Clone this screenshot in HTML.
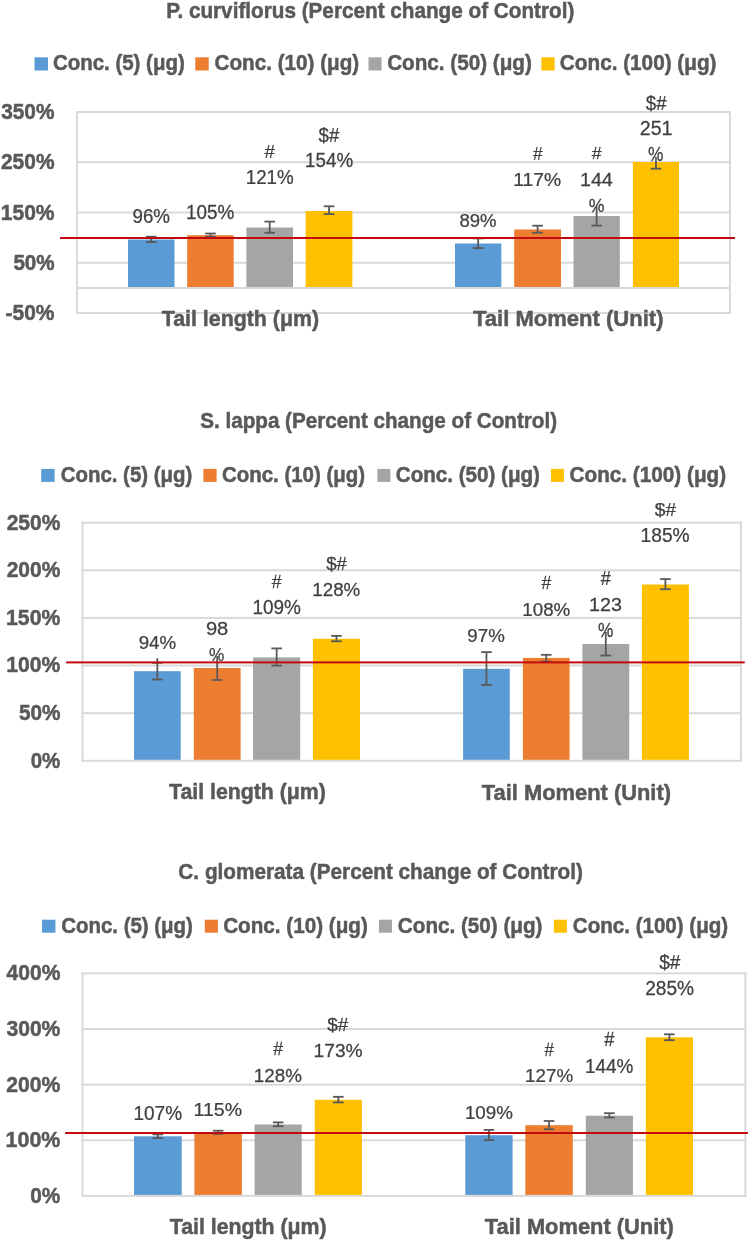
<!DOCTYPE html>
<html><head><meta charset="utf-8"><style>
html,body{margin:0;padding:0;background:#fff;width:749px;height:1240px;overflow:hidden}
svg{display:block;will-change:transform}
text{font-family:"Liberation Sans",sans-serif}
text[font-weight="bold"]{stroke:#595959;stroke-width:0.5;stroke-linejoin:round}
text[font-weight="normal"]{stroke:#404040;stroke-width:0.25;stroke-linejoin:round}
</style></head><body>
<svg width="749" height="1240" viewBox="0 0 749 1240">
<rect width="749" height="1240" fill="#fff"/>
<rect x="76.00" y="111.00" width="655.00" height="2" fill="#D9D9D9"/>
<rect x="76.00" y="161.25" width="655.00" height="2" fill="#D9D9D9"/>
<rect x="76.00" y="211.50" width="655.00" height="2" fill="#D9D9D9"/>
<rect x="76.00" y="261.75" width="655.00" height="2" fill="#D9D9D9"/>
<rect x="76.00" y="312.00" width="655.00" height="2" fill="#D9D9D9"/>
<rect x="76.00" y="287.00" width="655.00" height="2" fill="#D9D9D9"/>
<rect x="76.00" y="111.00" width="2" height="203.00" fill="#D9D9D9"/>
<rect x="729.00" y="111.00" width="2" height="203.00" fill="#D9D9D9"/>
<rect x="128.00" y="239.50" width="46.50" height="47.50" fill="#5B9BD5"/>
<rect x="187.20" y="235.20" width="46.50" height="51.80" fill="#ED7D31"/>
<rect x="246.40" y="227.50" width="46.60" height="59.50" fill="#A5A5A5"/>
<rect x="305.70" y="211.00" width="46.70" height="76.00" fill="#FFC000"/>
<rect x="455.00" y="243.50" width="46.30" height="43.50" fill="#5B9BD5"/>
<rect x="514.20" y="229.50" width="46.80" height="57.50" fill="#ED7D31"/>
<rect x="573.50" y="216.00" width="46.30" height="71.00" fill="#A5A5A5"/>
<rect x="632.90" y="162.00" width="46.10" height="125.00" fill="#FFC000"/>
<rect x="150.35" y="236.70" width="1.8" height="5.30" fill="#595959"/>
<rect x="145.95" y="235.80" width="10.6" height="1.8" fill="#595959"/>
<rect x="145.95" y="241.10" width="10.6" height="1.8" fill="#595959"/>
<rect x="209.55" y="233.50" width="1.8" height="3.20" fill="#595959"/>
<rect x="205.15" y="232.60" width="10.6" height="1.8" fill="#595959"/>
<rect x="205.15" y="235.80" width="10.6" height="1.8" fill="#595959"/>
<rect x="268.80" y="221.60" width="1.8" height="11.20" fill="#595959"/>
<rect x="264.40" y="220.70" width="10.6" height="1.8" fill="#595959"/>
<rect x="264.40" y="231.90" width="10.6" height="1.8" fill="#595959"/>
<rect x="328.15" y="206.30" width="1.8" height="7.80" fill="#595959"/>
<rect x="323.75" y="205.40" width="10.6" height="1.8" fill="#595959"/>
<rect x="323.75" y="213.20" width="10.6" height="1.8" fill="#595959"/>
<rect x="477.25" y="238.40" width="1.8" height="9.70" fill="#595959"/>
<rect x="472.85" y="237.50" width="10.6" height="1.8" fill="#595959"/>
<rect x="472.85" y="247.20" width="10.6" height="1.8" fill="#595959"/>
<rect x="536.70" y="225.70" width="1.8" height="7.10" fill="#595959"/>
<rect x="532.30" y="224.80" width="10.6" height="1.8" fill="#595959"/>
<rect x="532.30" y="231.90" width="10.6" height="1.8" fill="#595959"/>
<rect x="595.75" y="206.40" width="1.8" height="19.20" fill="#595959"/>
<rect x="591.35" y="224.70" width="10.6" height="1.8" fill="#595959"/>
<rect x="655.05" y="157.00" width="1.8" height="11.70" fill="#595959"/>
<rect x="650.65" y="167.80" width="10.6" height="1.8" fill="#595959"/>
<rect x="60.00" y="237.00" width="675.00" height="2" fill="#C00A10"/>
<text transform="translate(132.46,223.40) scale(0.9509,1)" font-size="19.72" font-weight="normal" fill="#404040">96%</text>
<text transform="translate(186.09,218.81) scale(0.9791,1)" font-size="19.30" font-weight="normal" fill="#404040">105%</text>
<text transform="translate(264.60,157.70) scale(0.9721,1)" font-size="19.26" font-weight="normal" fill="#404040">#</text>
<text transform="translate(245.70,184.21) scale(0.9728,1)" font-size="19.30" font-weight="normal" fill="#404040">121%</text>
<text transform="translate(318.61,142.23) scale(0.9554,1)" font-size="19.51" font-weight="normal" fill="#404040">$#</text>
<text transform="translate(305.10,167.41) scale(0.9661,1)" font-size="19.43" font-weight="normal" fill="#404040">154%</text>
<text transform="translate(459.46,226.61) scale(0.9977,1)" font-size="18.59" font-weight="normal" fill="#404040">89%</text>
<text transform="translate(532.90,160.30) scale(0.9396,1)" font-size="18.38" font-weight="normal" fill="#404040">#</text>
<text transform="translate(513.25,186.41) scale(1.0248,1)" font-size="18.86" font-weight="normal" fill="#404040">117%</text>
<text transform="translate(591.80,159.40) scale(1.0163,1)" font-size="17.35" font-weight="normal" fill="#404040">#</text>
<text transform="translate(579.92,186.00) scale(1.0399,1)" font-size="18.99" font-weight="normal" fill="#404040">144</text>
<text transform="translate(588.79,211.91) scale(0.9500,1)" font-size="18.71" font-weight="normal" fill="#404040">%</text>
<text transform="translate(645.81,109.83) scale(0.9494,1)" font-size="19.63" font-weight="normal" fill="#404040">$#</text>
<text transform="translate(639.72,135.30) scale(0.9911,1)" font-size="19.86" font-weight="normal" fill="#404040">251</text>
<text transform="translate(648.11,161.40) scale(0.8642,1)" font-size="20.00" font-weight="normal" fill="#404040">%</text>
<text transform="translate(166.25,18.00) scale(0.9468,1)" font-size="21.88" font-weight="bold" fill="#595959">P. curviflorus (Percent change of Control)</text>
<rect x="34.50" y="57.30" width="13.50" height="13.20" fill="#5B9BD5"/>
<text transform="translate(52.88,70.40) scale(0.9497,1)" font-size="21.57" font-weight="bold" fill="#595959">Conc. (5) (μg)</text>
<rect x="195.30" y="57.30" width="13.40" height="13.20" fill="#ED7D31"/>
<text transform="translate(214.57,70.40) scale(0.9580,1)" font-size="21.57" font-weight="bold" fill="#595959">Conc. (10) (μg)</text>
<rect x="368.50" y="57.30" width="13.10" height="13.20" fill="#A5A5A5"/>
<text transform="translate(387.17,70.40) scale(0.9587,1)" font-size="21.57" font-weight="bold" fill="#595959">Conc. (50) (μg)</text>
<rect x="541.40" y="57.30" width="13.20" height="13.20" fill="#FFC000"/>
<text transform="translate(559.87,70.40) scale(0.9613,1)" font-size="21.57" font-weight="bold" fill="#595959">Conc. (100) (μg)</text>
<text transform="translate(1.18,119.08) scale(0.9501,1)" font-size="21.97" font-weight="bold" fill="#595959">350%</text>
<text transform="translate(0.97,168.78) scale(0.9727,1)" font-size="21.55" font-weight="bold" fill="#595959">250%</text>
<text transform="translate(0.74,219.78) scale(0.9770,1)" font-size="21.55" font-weight="bold" fill="#595959">150%</text>
<text transform="translate(13.38,269.78) scale(0.9568,1)" font-size="21.55" font-weight="bold" fill="#595959">50%</text>
<text transform="translate(5.56,319.79) scale(0.9795,1)" font-size="21.41" font-weight="bold" fill="#595959">-50%</text>
<text transform="translate(161.69,326.00) scale(0.9518,1)" font-size="22.46" font-weight="bold" fill="#595959">Tail length (μm)</text>
<text transform="translate(472.98,326.00) scale(0.9690,1)" font-size="22.75" font-weight="bold" fill="#595959">Tail Moment (Unit)</text>
<rect x="81.50" y="521.70" width="660.50" height="2" fill="#D9D9D9"/>
<rect x="81.50" y="569.30" width="660.50" height="2" fill="#D9D9D9"/>
<rect x="81.50" y="616.90" width="660.50" height="2" fill="#D9D9D9"/>
<rect x="81.50" y="664.50" width="660.50" height="2" fill="#D9D9D9"/>
<rect x="81.50" y="712.20" width="660.50" height="2" fill="#D9D9D9"/>
<rect x="81.50" y="759.80" width="660.50" height="2" fill="#D9D9D9"/>
<rect x="81.50" y="521.70" width="2" height="240.10" fill="#D9D9D9"/>
<rect x="740.00" y="521.70" width="2" height="240.10" fill="#D9D9D9"/>
<rect x="134.00" y="671.20" width="46.70" height="88.60" fill="#5B9BD5"/>
<rect x="193.80" y="668.00" width="46.80" height="91.80" fill="#ED7D31"/>
<rect x="253.10" y="657.40" width="47.10" height="102.40" fill="#A5A5A5"/>
<rect x="312.90" y="638.80" width="47.10" height="121.00" fill="#FFC000"/>
<rect x="463.10" y="668.80" width="46.70" height="91.00" fill="#5B9BD5"/>
<rect x="522.90" y="657.90" width="46.70" height="101.90" fill="#ED7D31"/>
<rect x="582.40" y="644.00" width="46.80" height="115.80" fill="#A5A5A5"/>
<rect x="641.90" y="584.50" width="47.00" height="175.30" fill="#FFC000"/>
<rect x="156.45" y="658.20" width="1.8" height="21.30" fill="#595959"/>
<rect x="152.05" y="661.90" width="10.6" height="1.8" fill="#595959"/>
<rect x="152.05" y="678.60" width="10.6" height="1.8" fill="#595959"/>
<rect x="216.30" y="656.00" width="1.8" height="24.00" fill="#595959"/>
<rect x="211.90" y="679.10" width="10.6" height="1.8" fill="#595959"/>
<rect x="275.75" y="648.40" width="1.8" height="17.20" fill="#595959"/>
<rect x="271.35" y="647.50" width="10.6" height="1.8" fill="#595959"/>
<rect x="271.35" y="664.70" width="10.6" height="1.8" fill="#595959"/>
<rect x="335.55" y="635.90" width="1.8" height="5.40" fill="#595959"/>
<rect x="331.15" y="635.00" width="10.6" height="1.8" fill="#595959"/>
<rect x="331.15" y="640.40" width="10.6" height="1.8" fill="#595959"/>
<rect x="485.55" y="652.10" width="1.8" height="32.80" fill="#595959"/>
<rect x="481.15" y="651.20" width="10.6" height="1.8" fill="#595959"/>
<rect x="481.15" y="684.00" width="10.6" height="1.8" fill="#595959"/>
<rect x="545.35" y="654.80" width="1.8" height="6.70" fill="#595959"/>
<rect x="540.95" y="653.90" width="10.6" height="1.8" fill="#595959"/>
<rect x="540.95" y="660.60" width="10.6" height="1.8" fill="#595959"/>
<rect x="604.90" y="632.00" width="1.8" height="23.50" fill="#595959"/>
<rect x="600.50" y="654.60" width="10.6" height="1.8" fill="#595959"/>
<rect x="664.50" y="579.10" width="1.8" height="10.10" fill="#595959"/>
<rect x="660.10" y="578.20" width="10.6" height="1.8" fill="#595959"/>
<rect x="660.10" y="588.30" width="10.6" height="1.8" fill="#595959"/>
<rect x="66.10" y="661.40" width="678.60" height="2" fill="#C00A10"/>
<text transform="translate(138.67,648.62) scale(1.0134,1)" font-size="18.45" font-weight="normal" fill="#404040">94%</text>
<text transform="translate(205.89,635.12) scale(1.0946,1)" font-size="18.45" font-weight="normal" fill="#404040">98</text>
<text transform="translate(209.01,661.31) scale(0.8962,1)" font-size="19.29" font-weight="normal" fill="#404040">%</text>
<text transform="translate(271.80,587.70) scale(0.9830,1)" font-size="17.94" font-weight="normal" fill="#404040">#</text>
<text transform="translate(252.49,614.21) scale(0.9813,1)" font-size="19.30" font-weight="normal" fill="#404040">109%</text>
<text transform="translate(326.21,570.10) scale(1.0064,1)" font-size="18.52" font-weight="normal" fill="#404040">$#</text>
<text transform="translate(312.30,595.91) scale(0.9872,1)" font-size="19.01" font-weight="normal" fill="#404040">128%</text>
<text transform="translate(467.37,642.02) scale(1.0212,1)" font-size="18.31" font-weight="normal" fill="#404040">97%</text>
<text transform="translate(541.60,588.60) scale(0.9830,1)" font-size="17.94" font-weight="normal" fill="#404040">#</text>
<text transform="translate(522.30,615.52) scale(1.0173,1)" font-size="18.45" font-weight="normal" fill="#404040">108%</text>
<text transform="translate(600.70,584.70) scale(0.9227,1)" font-size="19.71" font-weight="normal" fill="#404040">#</text>
<text transform="translate(589.12,610.92) scale(1.0699,1)" font-size="18.45" font-weight="normal" fill="#404040">123</text>
<text transform="translate(598.01,637.21) scale(0.8896,1)" font-size="19.43" font-weight="normal" fill="#404040">%</text>
<text transform="translate(654.81,515.76) scale(1.0814,1)" font-size="17.65" font-weight="normal" fill="#404040">$#</text>
<text transform="translate(640.57,542.00) scale(0.9727,1)" font-size="19.72" font-weight="normal" fill="#404040">185%</text>
<text transform="translate(200.18,428.00) scale(0.9516,1)" font-size="21.71" font-weight="bold" fill="#595959">S. lappa (Percent change of Control)</text>
<rect x="41.20" y="468.90" width="13.40" height="13.00" fill="#5B9BD5"/>
<text transform="translate(60.68,481.90) scale(0.9603,1)" font-size="21.29" font-weight="bold" fill="#595959">Conc. (5) (μg)</text>
<rect x="203.40" y="468.90" width="13.20" height="13.00" fill="#ED7D31"/>
<text transform="translate(221.88,481.90) scale(0.9620,1)" font-size="21.29" font-weight="bold" fill="#595959">Conc. (10) (μg)</text>
<rect x="377.40" y="468.90" width="13.00" height="13.00" fill="#A5A5A5"/>
<text transform="translate(395.78,481.90) scale(0.9675,1)" font-size="21.29" font-weight="bold" fill="#595959">Conc. (50) (μg)</text>
<rect x="551.00" y="468.90" width="12.90" height="13.00" fill="#FFC000"/>
<text transform="translate(569.57,481.90) scale(0.9736,1)" font-size="21.29" font-weight="bold" fill="#595959">Conc. (100) (μg)</text>
<text transform="translate(6.67,529.77) scale(0.9319,1)" font-size="22.54" font-weight="bold" fill="#595959">250%</text>
<text transform="translate(6.67,577.47) scale(0.9319,1)" font-size="22.54" font-weight="bold" fill="#595959">200%</text>
<text transform="translate(6.02,625.08) scale(0.9612,1)" font-size="22.11" font-weight="bold" fill="#595959">150%</text>
<text transform="translate(6.33,672.48) scale(0.9807,1)" font-size="21.55" font-weight="bold" fill="#595959">100%</text>
<text transform="translate(18.88,720.28) scale(0.9515,1)" font-size="21.83" font-weight="bold" fill="#595959">50%</text>
<text transform="translate(30.68,767.77) scale(0.9100,1)" font-size="22.54" font-weight="bold" fill="#595959">0%</text>
<text transform="translate(168.99,799.20) scale(0.9482,1)" font-size="22.46" font-weight="bold" fill="#595959">Tail length (μm)</text>
<text transform="translate(481.78,799.70) scale(0.9680,1)" font-size="22.61" font-weight="bold" fill="#595959">Tail Moment (Unit)</text>
<rect x="81.50" y="972.40" width="664.90" height="2" fill="#D9D9D9"/>
<rect x="81.50" y="1028.00" width="664.90" height="2" fill="#D9D9D9"/>
<rect x="81.50" y="1083.70" width="664.90" height="2" fill="#D9D9D9"/>
<rect x="81.50" y="1139.30" width="664.90" height="2" fill="#D9D9D9"/>
<rect x="81.50" y="1194.90" width="664.90" height="2" fill="#D9D9D9"/>
<rect x="81.50" y="972.40" width="2" height="224.50" fill="#D9D9D9"/>
<rect x="744.40" y="972.40" width="2" height="224.50" fill="#D9D9D9"/>
<rect x="134.00" y="1136.30" width="47.70" height="58.60" fill="#5B9BD5"/>
<rect x="194.40" y="1132.00" width="47.50" height="62.90" fill="#ED7D31"/>
<rect x="254.60" y="1124.50" width="47.10" height="70.40" fill="#A5A5A5"/>
<rect x="314.80" y="1099.80" width="47.10" height="95.10" fill="#FFC000"/>
<rect x="465.30" y="1135.20" width="47.30" height="59.70" fill="#5B9BD5"/>
<rect x="525.30" y="1125.20" width="47.50" height="69.70" fill="#ED7D31"/>
<rect x="585.80" y="1115.70" width="47.10" height="79.20" fill="#A5A5A5"/>
<rect x="645.80" y="1037.30" width="47.20" height="157.60" fill="#FFC000"/>
<rect x="156.95" y="1134.40" width="1.8" height="3.70" fill="#595959"/>
<rect x="152.55" y="1133.50" width="10.6" height="1.8" fill="#595959"/>
<rect x="152.55" y="1137.20" width="10.6" height="1.8" fill="#595959"/>
<rect x="217.25" y="1130.70" width="1.8" height="3.10" fill="#595959"/>
<rect x="212.85" y="1129.80" width="10.6" height="1.8" fill="#595959"/>
<rect x="212.85" y="1132.90" width="10.6" height="1.8" fill="#595959"/>
<rect x="277.25" y="1122.40" width="1.8" height="3.80" fill="#595959"/>
<rect x="272.85" y="1121.50" width="10.6" height="1.8" fill="#595959"/>
<rect x="272.85" y="1125.30" width="10.6" height="1.8" fill="#595959"/>
<rect x="337.45" y="1096.80" width="1.8" height="5.60" fill="#595959"/>
<rect x="333.05" y="1095.90" width="10.6" height="1.8" fill="#595959"/>
<rect x="333.05" y="1101.50" width="10.6" height="1.8" fill="#595959"/>
<rect x="488.05" y="1129.90" width="1.8" height="10.30" fill="#595959"/>
<rect x="483.65" y="1129.00" width="10.6" height="1.8" fill="#595959"/>
<rect x="483.65" y="1139.30" width="10.6" height="1.8" fill="#595959"/>
<rect x="548.15" y="1121.00" width="1.8" height="8.30" fill="#595959"/>
<rect x="543.75" y="1120.10" width="10.6" height="1.8" fill="#595959"/>
<rect x="543.75" y="1128.40" width="10.6" height="1.8" fill="#595959"/>
<rect x="608.45" y="1113.20" width="1.8" height="4.30" fill="#595959"/>
<rect x="604.05" y="1112.30" width="10.6" height="1.8" fill="#595959"/>
<rect x="604.05" y="1116.60" width="10.6" height="1.8" fill="#595959"/>
<rect x="668.50" y="1034.30" width="1.8" height="5.90" fill="#595959"/>
<rect x="664.10" y="1033.40" width="10.6" height="1.8" fill="#595959"/>
<rect x="664.10" y="1039.30" width="10.6" height="1.8" fill="#595959"/>
<rect x="65.20" y="1132.00" width="682.80" height="2" fill="#C00A10"/>
<text transform="translate(133.48,1120.01) scale(0.9763,1)" font-size="19.44" font-weight="normal" fill="#404040">107%</text>
<text transform="translate(193.53,1115.91) scale(1.0152,1)" font-size="19.29" font-weight="normal" fill="#404040">115%</text>
<text transform="translate(273.30,1055.10) scale(0.9594,1)" font-size="18.38" font-weight="normal" fill="#404040">#</text>
<text transform="translate(253.79,1082.01) scale(0.9989,1)" font-size="18.87" font-weight="normal" fill="#404040">128%</text>
<text transform="translate(327.31,1030.86) scale(1.0762,1)" font-size="17.65" font-weight="normal" fill="#404040">$#</text>
<text transform="translate(313.57,1056.82) scale(1.0395,1)" font-size="18.45" font-weight="normal" fill="#404040">173%</text>
<text transform="translate(464.90,1118.52) scale(1.0173,1)" font-size="18.45" font-weight="normal" fill="#404040">109%</text>
<text transform="translate(544.40,1056.40) scale(0.9503,1)" font-size="17.79" font-weight="normal" fill="#404040">#</text>
<text transform="translate(525.10,1082.41) scale(0.9799,1)" font-size="19.15" font-weight="normal" fill="#404040">127%</text>
<text transform="translate(604.30,1046.40) scale(0.9389,1)" font-size="19.56" font-weight="normal" fill="#404040">#</text>
<text transform="translate(584.89,1072.80) scale(0.9400,1)" font-size="20.14" font-weight="normal" fill="#404040">144%</text>
<text transform="translate(659.21,968.51) scale(0.9605,1)" font-size="19.88" font-weight="normal" fill="#404040">$#</text>
<text transform="translate(645.24,994.51) scale(0.9903,1)" font-size="19.30" font-weight="normal" fill="#404040">285%</text>
<text transform="translate(178.37,878.80) scale(0.9435,1)" font-size="22.00" font-weight="bold" fill="#595959">C. glomerata (Percent change of Control)</text>
<rect x="42.00" y="919.70" width="13.40" height="13.00" fill="#5B9BD5"/>
<text transform="translate(61.18,932.50) scale(0.9238,1)" font-size="22.14" font-weight="bold" fill="#595959">Conc. (5) (μg)</text>
<rect x="204.80" y="919.70" width="13.10" height="13.00" fill="#ED7D31"/>
<text transform="translate(223.17,932.50) scale(0.9339,1)" font-size="22.14" font-weight="bold" fill="#595959">Conc. (10) (μg)</text>
<rect x="378.90" y="919.70" width="13.10" height="13.00" fill="#A5A5A5"/>
<text transform="translate(397.87,932.50) scale(0.9333,1)" font-size="22.14" font-weight="bold" fill="#595959">Conc. (50) (μg)</text>
<rect x="553.90" y="919.70" width="13.00" height="13.00" fill="#FFC000"/>
<text transform="translate(572.78,932.50) scale(0.9298,1)" font-size="22.14" font-weight="bold" fill="#595959">Conc. (100) (μg)</text>
<text transform="translate(6.48,980.18) scale(0.9717,1)" font-size="21.69" font-weight="bold" fill="#595959">400%</text>
<text transform="translate(6.48,1035.88) scale(0.9780,1)" font-size="21.55" font-weight="bold" fill="#595959">300%</text>
<text transform="translate(6.27,1091.68) scale(0.9693,1)" font-size="21.83" font-weight="bold" fill="#595959">200%</text>
<text transform="translate(5.61,1147.48) scale(0.9747,1)" font-size="21.97" font-weight="bold" fill="#595959">100%</text>
<text transform="translate(30.17,1202.98) scale(0.9438,1)" font-size="22.11" font-weight="bold" fill="#595959">0%</text>
<text transform="translate(169.79,1233.70) scale(0.9998,1)" font-size="21.30" font-weight="bold" fill="#595959">Tail length (μm)</text>
<text transform="translate(484.78,1234.00) scale(0.9743,1)" font-size="22.46" font-weight="bold" fill="#595959">Tail Moment (Unit)</text>
</svg></body></html>
